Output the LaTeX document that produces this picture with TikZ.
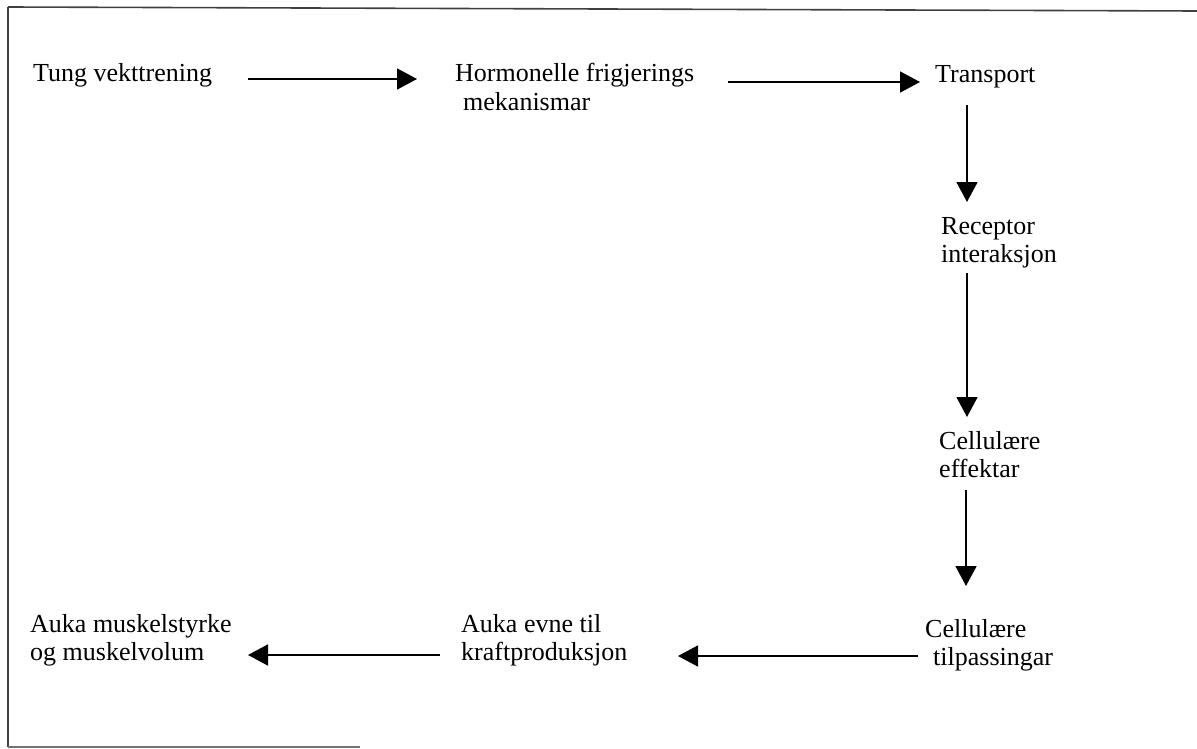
\documentclass[tikz,border=0pt]{standalone}
\usepackage{fontspec}
\setmainfont{Liberation Serif}
\usetikzlibrary{arrows.meta}
\tikzset{
  lbl/.style={anchor=base west, inner sep=0pt, font=\fontsize{26}{28.5}\selectfont},
  arr/.style={line width=1.7pt, -{Triangle[length=20pt,width=21pt]}},
  frameline/.style={line width=1.6pt, black!75}
}
\newcommand{\twolines}[2]{\begin{tabular}[t]{@{}l@{}}#1\\#2\end{tabular}}
\begin{document}
\begin{tikzpicture}[x=1pt,y=-1pt]
\useasboundingbox (0,0) rectangle (1197,749);
% frame
\draw[frameline] (8,7) -- (1197,11);
\draw[frameline] (8,7) -- (8,747);
\draw[line width=1.4pt, black!55] (8,747) -- (360,747);
% text nodes
\node[lbl] (t1) at (33,82) {Tung vekttrening};
\node[lbl] (t2) at (455,82) {\twolines{Hormonelle frigjerings}{\hspace*{8pt}mekanismar}};
\node[lbl] (t3) at (935,83) {Transport};
\node[lbl] (t4) at (941,234) {\twolines{Receptor}{interaksjon}};
\node[lbl] (t5) at (939,449) {\twolines{Cellulære}{effektar}};
\node[lbl] (t6) at (925,637) {\twolines{Cellulære}{\hspace*{8pt}tilpassingar}};
\node[lbl] (t7) at (461,632) {\twolines{Auka evne til}{kraftproduksjon}};
\node[lbl] (t8) at (30,632) {\twolines{Auka muskelstyrke}{og muskelvolum}};
% arrow end points
\coordinate (a1s) at (248,79);  \coordinate (a1e) at (417,79);
\coordinate (a2s) at (728,82);  \coordinate (a2e) at (920,82);
\coordinate (v1s) at (967,105); \coordinate (v1e) at (967,202);
\coordinate (v2s) at (967,273); \coordinate (v2e) at (967,417);
\coordinate (v3s) at (966,490); \coordinate (v3e) at (966,586);
\coordinate (a4s) at (918,656); \coordinate (a4e) at (678,656);
\coordinate (a5s) at (440,655); \coordinate (a5e) at (248,655);
% connectors
\draw[arr] (a1s) -- (a1e);
\draw[arr] (a2s) -- (a2e);
\draw[arr] (v1s) -- (v1e);
\draw[arr] (v2s) -- (v2e);
\draw[arr] (v3s) -- (v3e);
\draw[arr] (a4s) -- (a4e);
\draw[arr] (a5s) -- (a5e);
\end{tikzpicture}
\end{document}
